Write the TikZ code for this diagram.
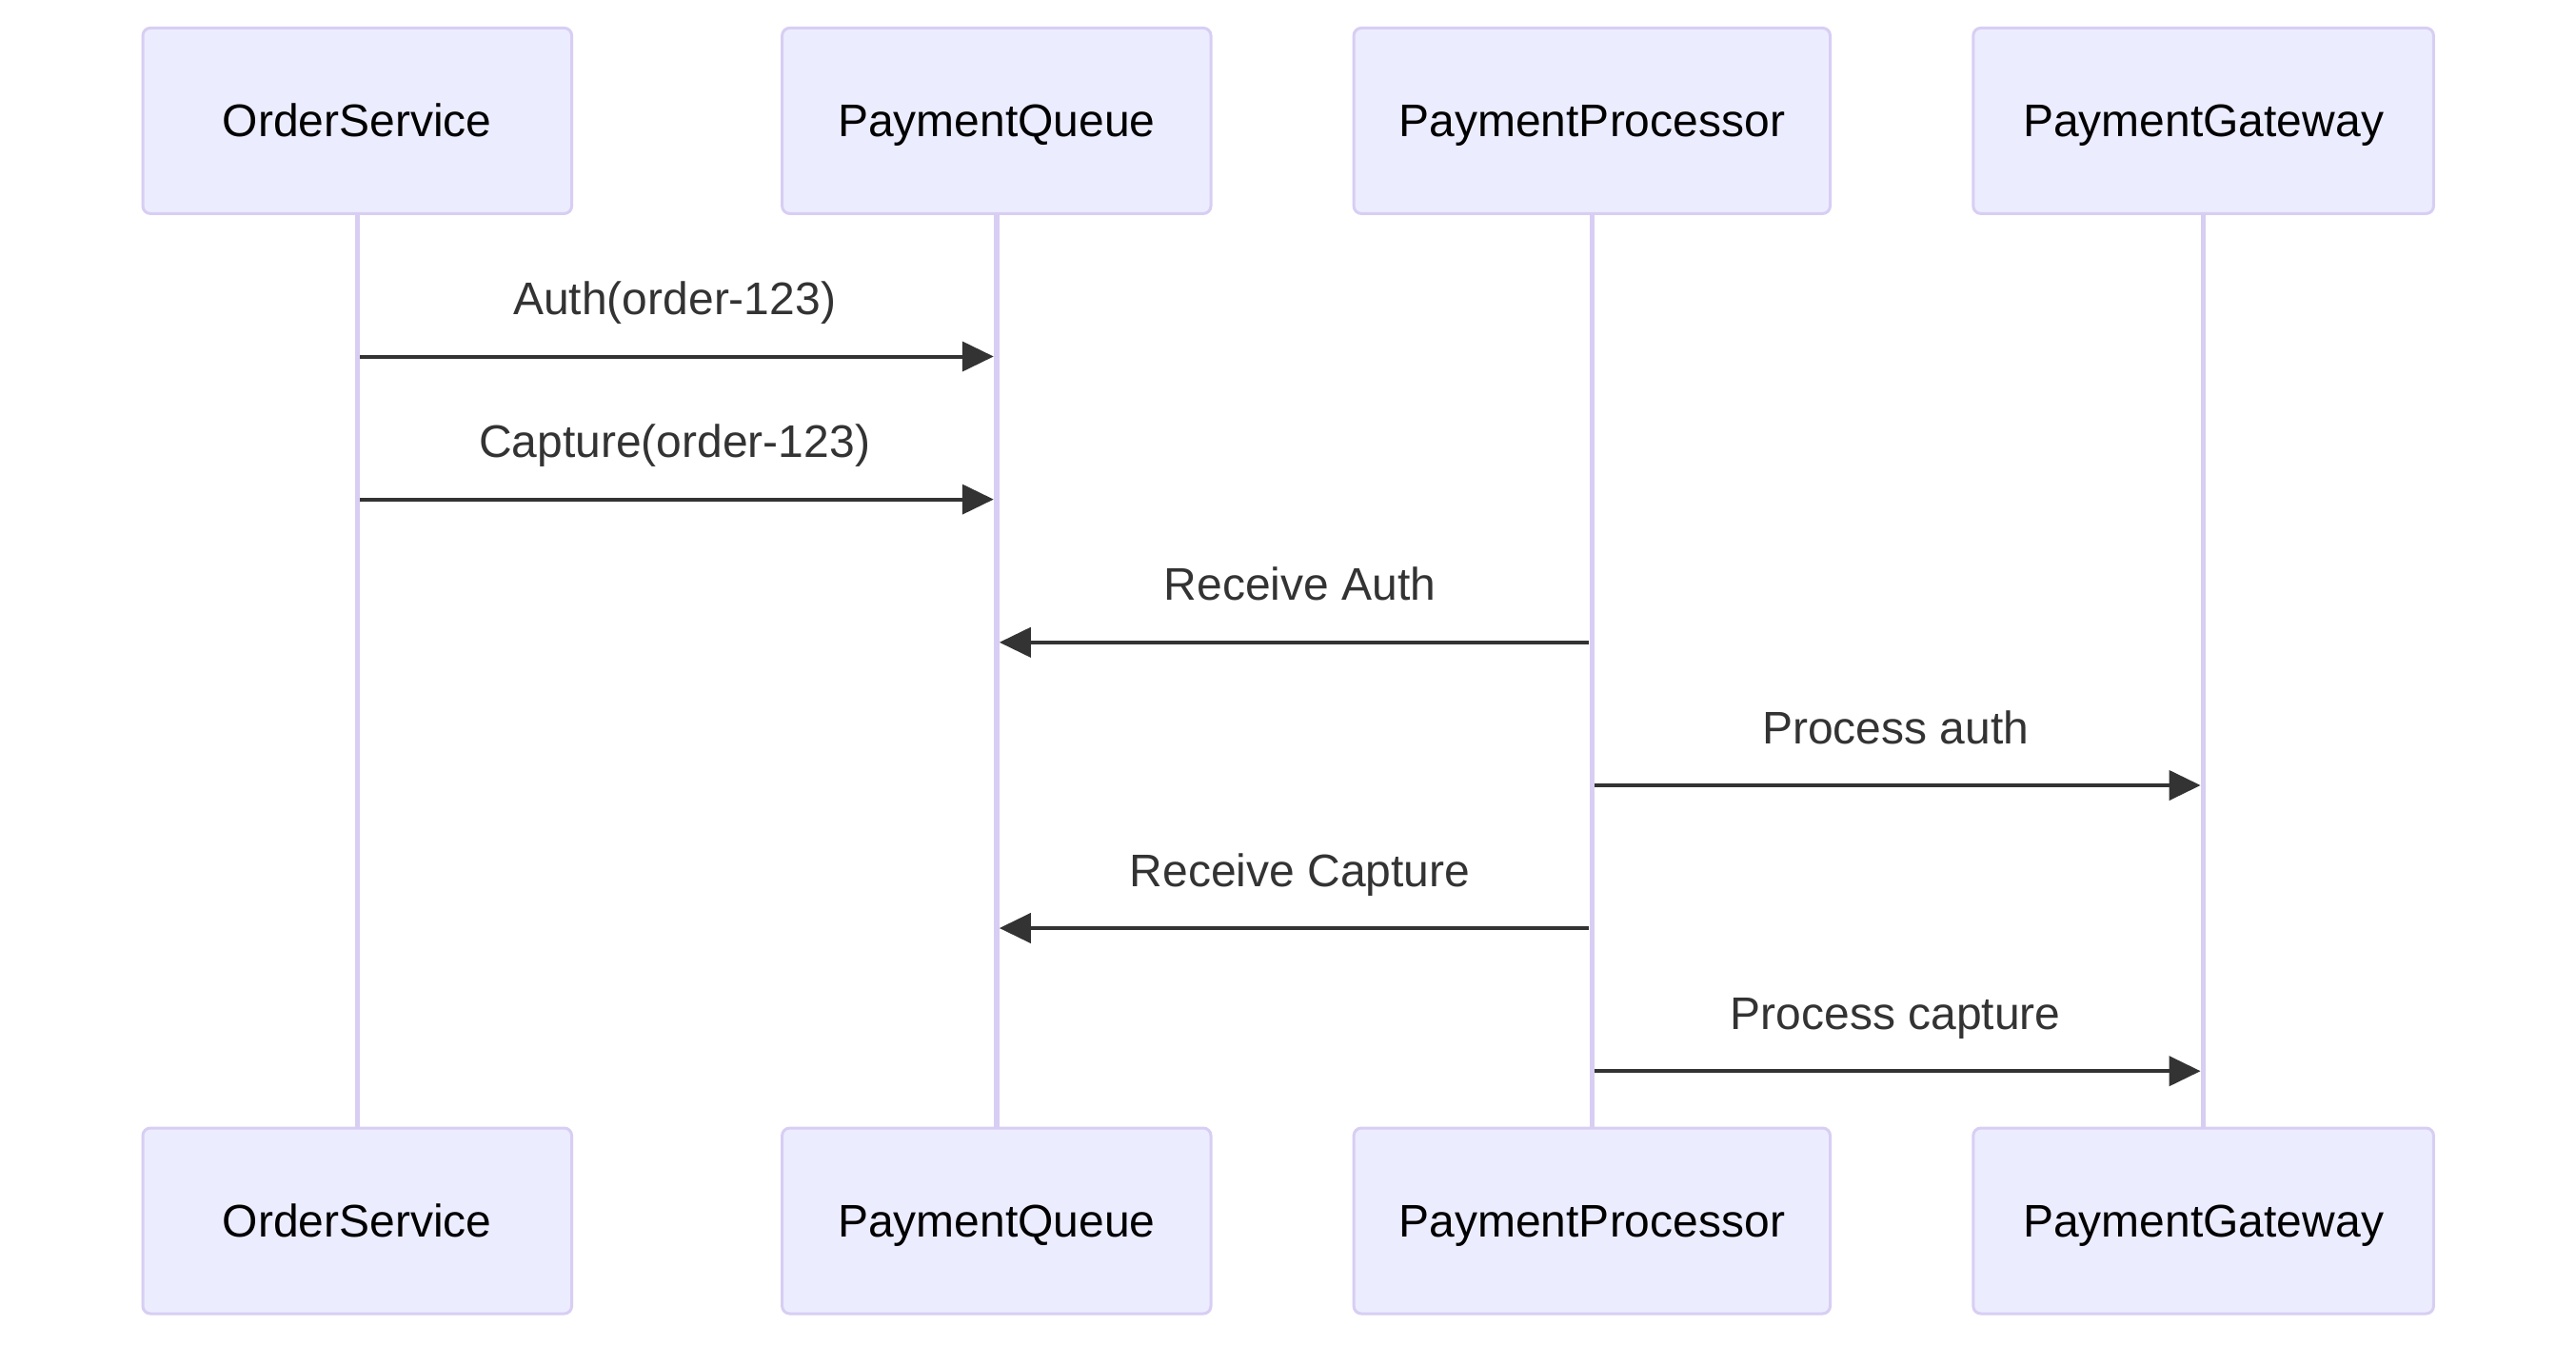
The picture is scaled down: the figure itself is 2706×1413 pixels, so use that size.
\documentclass[tikz,border=0pt]{standalone}
\usepackage{fontspec}
\setmainfont{Liberation Sans}
\usetikzlibrary{arrows.meta}

\definecolor{actorfill}{RGB}{236,236,255}
\definecolor{actorline}{RGB}{216,206,243}
\definecolor{msgcol}{RGB}{51,51,51}

\begin{document}
\begin{tikzpicture}[x=0.25pt, y=-0.25pt,
    actor/.style = {draw = actorline, fill = actorfill, line width = 0.75pt,
        rounded corners = 2pt, minimum height = 48.75pt, inner sep = 0pt,
        text height = 8.5pt, text depth = 0pt,
        font = \fontsize{12}{14}\selectfont},
    life/.style = {draw = actorline, line width = 1.4pt},
    msg/.style = {draw = msgcol, line width = 1pt,
        -{Triangle[length=8.25pt, width=7.75pt]},
        shorten <= 0.75pt, shorten >= 0.75pt},
    lbl/.style = {text = msgcol, anchor = base, yshift = 11pt,
        font = \fontsize{12}{14}\selectfont}]
\fill[white] (0,0) rectangle (2706,1413);
% actors, top
\node[actor, minimum width = 112.65pt] (os) at (375.3,126.9) {OrderService};
\node[actor, minimum width = 112.6pt] (pq) at (1046.8,126.9) {PaymentQueue};
\node[actor, minimum width = 125.1pt] (pp) at (1672.3,126.9) {PaymentProcessor};
\node[actor, minimum width = 120.9pt] (pg) at (2314.6,126.9) {PaymentGateway};
% actors, bottom
\node[actor, minimum width = 112.65pt] (os2) at (375.3,1282.5) {OrderService};
\node[actor, minimum width = 112.6pt] (pq2) at (1046.8,1282.5) {PaymentQueue};
\node[actor, minimum width = 125.1pt] (pp2) at (1672.3,1282.5) {PaymentProcessor};
\node[actor, minimum width = 120.9pt] (pg2) at (2314.6,1282.5) {PaymentGateway};
% lifelines
\draw[life] (os) -- (os2);
\draw[life] (pq) -- (pq2);
\draw[life] (pp) -- (pp2);
\draw[life] (pg) -- (pg2);
% message rows
\coordinate (r1) at (0,374.5);
\coordinate (r2) at (0,524.6);
\coordinate (r3) at (0,674.8);
\coordinate (r4) at (0,825);
\coordinate (r5) at (0,975);
\coordinate (r6) at (0,1125.2);
% messages
\draw[msg] (os |- r1) -- (pq |- r1) node[lbl, midway, xshift = -0.6pt] {Auth(order-123)};
\draw[msg] (os |- r2) -- (pq |- r2) node[lbl, midway, xshift = -0.6pt] {Capture(order-123)};
\draw[msg] (pp |- r3) -- (pq |- r3) node[lbl, midway, xshift = 1.5pt] {Receive Auth};
\draw[msg] (pp |- r4) -- (pg |- r4) node[lbl, midway, xshift = -0.6pt] {Process auth};
\draw[msg] (pp |- r5) -- (pq |- r5) node[lbl, midway, xshift = 1.5pt] {Receive Capture};
\draw[msg] (pp |- r6) -- (pg |- r6) node[lbl, midway, xshift = -0.6pt] {Process capture};
\end{tikzpicture}
\end{document}
